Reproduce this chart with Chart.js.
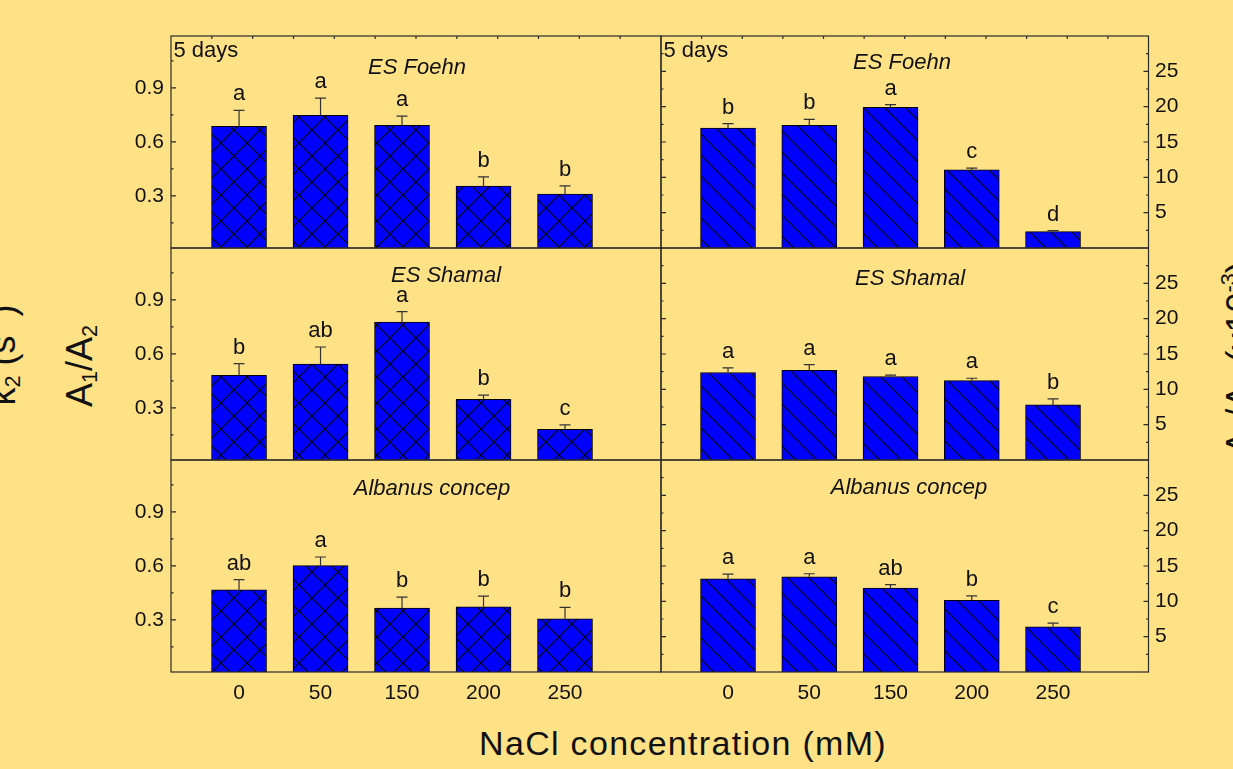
<!DOCTYPE html>
<html>
<head>
<meta charset="utf-8">
<script src="https://cdn.jsdelivr.net/npm/chart.js@4.4.0/dist/chart.umd.min.js"></script>
<style>
  html, body { margin: 0; padding: 0; background: #ffe186; }
  #wrap { position: relative; width: 1233px; height: 769px; overflow: hidden;
          font-family: "Liberation Sans", Arial, sans-serif; color: #111; }
  #wrap canvas { position: absolute; left: 0; top: 0; }
  .lbl { position: absolute; white-space: nowrap; line-height: 1; font-size: 36px; }
  .rot { transform: translate(-50%, -50%) rotate(-90deg); }
  .sb { font-size: 0.6em; vertical-align: -0.25em; line-height: 0; }
  .sp { font-size: 0.6em; vertical-align: 0.75em; line-height: 0; }
  .sp2 { font-size: 0.6em; vertical-align: 0.9em; line-height: 0; }
</style>
</head>
<body>
<div id="wrap">
  <div class="lbl rot" style="left:3px; top:355px;">k<span class="sb">2</span> (s<span class="sp2">-1</span>)</div>
  <div class="lbl rot" style="left:80px; top:366px;">A<span class="sb">1</span>/A<span class="sb">2</span></div>
  <div class="lbl rot" style="left:1240px; top:358px;">A<span class="sb">1</span>/A<span class="sb">2</span> (x10<span class="sp">-3</span>)</div>
  <div class="lbl" style="left:683px; top:726px; font-size:34px; letter-spacing:1.3px; transform:translateX(-50%);">NaCl concentration (mM)</div>
</div>
<script>
// NaCl levels (mM)
const concentrations = ['0', '50', '150', '200', '250'];
const leftTicks = [0.3, 0.6, 0.9];
const rightTicks = [5, 10, 15, 20, 25];

// left column (A1/A2)
const foehnLeft = [0.686, 0.747, 0.691, 0.354, 0.309];
const foehnLeftSE = [0.089, 0.096, 0.052, 0.051, 0.046];
const foehnLeftLetters = ['a', 'a', 'a', 'b', 'b'];

const shamalLeft = [0.480, 0.543, 0.776, 0.347, 0.180];
const shamalLeftSE = [0.065, 0.095, 0.059, 0.024, 0.025];
const shamalLeftLetters = ['b', 'ab', 'a', 'b', 'c'];

const albanusLeft = [0.467, 0.601, 0.365, 0.372, 0.306];
const albanusLeftSE = [0.056, 0.048, 0.061, 0.060, 0.063];
const albanusLeftLetters = ['ab', 'a', 'b', 'b', 'b'];

// right column (x10^-3)
const foehnRight = [16.97, 17.35, 19.9, 11.05, 2.32];
const foehnRightSE = [0.63, 0.85, 0.4, 0.25, 0.14];
const foehnRightLetters = ['b', 'b', 'a', 'c', 'd'];

const shamalRight = [12.38, 12.7, 11.81, 11.24, 7.8];
const shamalRightSE = [0.66, 0.8, 0.19, 0.33, 0.85];
const shamalRightLetters = ['a', 'a', 'a', 'a', 'b'];

const albanusRight = [13.2, 13.48, 11.88, 10.15, 6.4];
const albanusRightSE = [0.65, 0.42, 0.48, 0.61, 0.52];
const albanusRightLetters = ['a', 'a', 'ab', 'b', 'c'];

const W = 1233, H = 769;
const FONT = '"Liberation Sans", Arial, sans-serif';
const colX = [[171, 661], [661, 1148.5]];
const rowY = [[36, 248], [248, 460], [460, 672]];
const xRange = [[-0.835, 5.178], [-0.825, 5.175]];
const axisW = 44, axisH = 40;

const panels = [
  { col: 0, row: 0, values: foehnLeft, se: foehnLeftSE, letters: foehnLeftLetters, title: 'ES Foehn', tx: 417, ty: 74, days: true },
  { col: 1, row: 0, values: foehnRight, se: foehnRightSE, letters: foehnRightLetters, title: 'ES Foehn', tx: 902, ty: 69, days: true },
  { col: 0, row: 1, values: shamalLeft, se: shamalLeftSE, letters: shamalLeftLetters, title: 'ES Shamal', tx: 446, ty: 282 },
  { col: 1, row: 1, values: shamalRight, se: shamalRightSE, letters: shamalRightLetters, title: 'ES Shamal', tx: 910, ty: 285 },
  { col: 0, row: 2, values: albanusLeft, se: albanusLeftSE, letters: albanusLeftLetters, title: 'Albanus concep', tx: 432, ty: 495 },
  { col: 1, row: 2, values: albanusRight, se: albanusRightSE, letters: albanusRightLetters, title: 'Albanus concep', tx: 909, ty: 494 }
];

function makeHatch(ctx, cross) {
  const s = cross ? 26 : 21;
  const c = document.createElement('canvas');
  c.width = s; c.height = s;
  const g = c.getContext('2d');
  g.fillStyle = '#0000ff';
  g.fillRect(0, 0, s, s);
  g.strokeStyle = '#000';
  g.lineWidth = 1.1;
  g.beginPath();
  [-s, 0, s].forEach(k => { g.moveTo(-2, -2 + k); g.lineTo(s + 2, s + 2 + k); });
  if (cross) {
    [-s, 0, s].forEach(k => { g.moveTo(-2, s + 2 + k); g.lineTo(s + 2, -2 + k); });
  }
  g.stroke();
  return ctx.createPattern(c, 'repeat');
}

const panelDecor = {
  id: 'panelDecor',
  afterDatasetsDraw(chart, args, o) {
    const ctx = chart.ctx, ys = chart.scales.y;
    const meta = chart.getDatasetMeta(0);
    ctx.save();
    meta.data.forEach((bar, i) => {
      const top = ys.getPixelForValue(o.values[i] + o.se[i]);
      ctx.strokeStyle = '#333';
      ctx.lineWidth = 1.2;
      ctx.beginPath();
      ctx.moveTo(bar.x, bar.y);
      ctx.lineTo(bar.x, top);
      ctx.moveTo(bar.x - 5.5, top);
      ctx.lineTo(bar.x + 5.5, top);
      ctx.stroke();
      ctx.fillStyle = '#111';
      ctx.font = '22px ' + FONT;
      ctx.textAlign = 'center';
      ctx.textBaseline = 'alphabetic';
      ctx.fillText(o.letters[i], bar.x, top - 10);
    });
    ctx.restore();
  },
  afterDraw(chart, args, o) {
    const ctx = chart.ctx, a = chart.chartArea;
    const ys = chart.scales.y, xs = chart.scales.x;
    ctx.save();
    ctx.strokeStyle = '#2b2b2b';
    ctx.lineWidth = 1.2;
    ctx.strokeRect(a.left, a.top, a.right - a.left, a.bottom - a.top);

    // inward tick marks
    const ticks = o.isLeft ? leftTicks : rightTicks;
    const step = ticks[1] - ticks[0];
    const marks = [];
    for (let v = step / 2; v < ys.max; v += step / 2) {
      const major = ticks.some(t => Math.abs(t - v) < step / 10);
      marks.push([v, major ? 5 : 2.5]);
    }
    ctx.beginPath();
    marks.forEach(([v, len]) => {
      const py = ys.getPixelForValue(v);
      if (py <= a.top + 1 || py >= a.bottom - 1) return;
      if (o.isLeft) {
        ctx.moveTo(a.left, py); ctx.lineTo(a.left + len, py);
      } else {
        ctx.moveTo(a.right, py); ctx.lineTo(a.right - len, py);
        ctx.moveTo(a.left, py); ctx.lineTo(a.left + len, py);
      }
    });
    if (o.days) {
      for (let k = 1; k < 12; k++) {
        const px = xs.getPixelForValue(xs.min + k * (xs.max - xs.min) / 12);
        ctx.moveTo(px, a.top); ctx.lineTo(px, a.top + 3);
      }
    }
    ctx.stroke();

    ctx.fillStyle = '#111';
    ctx.textBaseline = 'alphabetic';
    ctx.font = 'italic 22px ' + FONT;
    ctx.textAlign = 'center';
    ctx.fillText(o.title, o.tx, o.ty);
    if (o.days) {
      ctx.font = '22px ' + FONT;
      ctx.textAlign = 'left';
      ctx.fillText('5 days', a.left + 2.5, 57);
    }
    ctx.restore();
  }
};

const wrap = document.getElementById('wrap');

panels.forEach(p => {
  const canvas = document.createElement('canvas');
  canvas.width = W; canvas.height = H;
  wrap.appendChild(canvas);
  const ctx = canvas.getContext('2d');
  const isLeft = p.col === 0;
  const bottomRow = p.row === 2;
  const [l, r] = colX[p.col];
  const [t, b] = rowY[p.row];

  new Chart(ctx, {
    type: 'bar',
    data: {
      datasets: [{
        data: p.values.map((v, i) => ({ x: i, y: v })),
        backgroundColor: makeHatch(ctx, isLeft),
        borderColor: '#000',
        borderWidth: 1,
        barThickness: 55
      }]
    },
    plugins: [panelDecor],
    options: {
      responsive: false,
      animation: false,
      devicePixelRatio: 1,
      events: [],
      layout: {
        padding: {
          left: isLeft ? l - axisW : l,
          right: isLeft ? W - r : W - r - axisW,
          top: t,
          bottom: bottomRow ? H - b - axisH : H - b
        }
      },
      plugins: {
        legend: { display: false },
        tooltip: { enabled: false },
        panelDecor: {
          values: p.values, se: p.se, letters: p.letters,
          title: p.title, tx: p.tx, ty: p.ty, days: !!p.days, isLeft: isLeft
        }
      },
      scales: {
        x: {
          type: 'linear',
          offset: false,
          bounds: 'data',
          min: xRange[p.col][0],
          max: xRange[p.col][1],
          display: bottomRow,
          afterBuildTicks: s => { s.ticks = concentrations.map((c, i) => ({ value: i })); },
          afterFit: s => { if (bottomRow) s.height = axisH; },
          grid: { display: false, drawTicks: false, offset: false },
          border: { display: false },
          ticks: {
            padding: 9, color: '#111', autoSkip: false, maxRotation: 0,
            font: { size: 21, family: FONT },
            callback: v => concentrations[v]
          }
        },
        y: {
          type: 'linear',
          position: isLeft ? 'left' : 'right',
          min: isLeft ? 0.01 : 0,
          max: isLeft ? 1.188 : 30,
          afterBuildTicks: s => { s.ticks = (isLeft ? leftTicks : rightTicks).map(v => ({ value: v })); },
          afterFit: s => { s.width = axisW; },
          grid: { display: false, drawTicks: false },
          border: { display: false },
          ticks: {
            padding: isLeft ? 7 : 6.5, color: '#111',
            font: { size: 21, family: FONT },
            callback: v => isLeft ? v.toFixed(1) : v
          }
        }
      }
    }
  });
});
</script>
</body>
</html>
